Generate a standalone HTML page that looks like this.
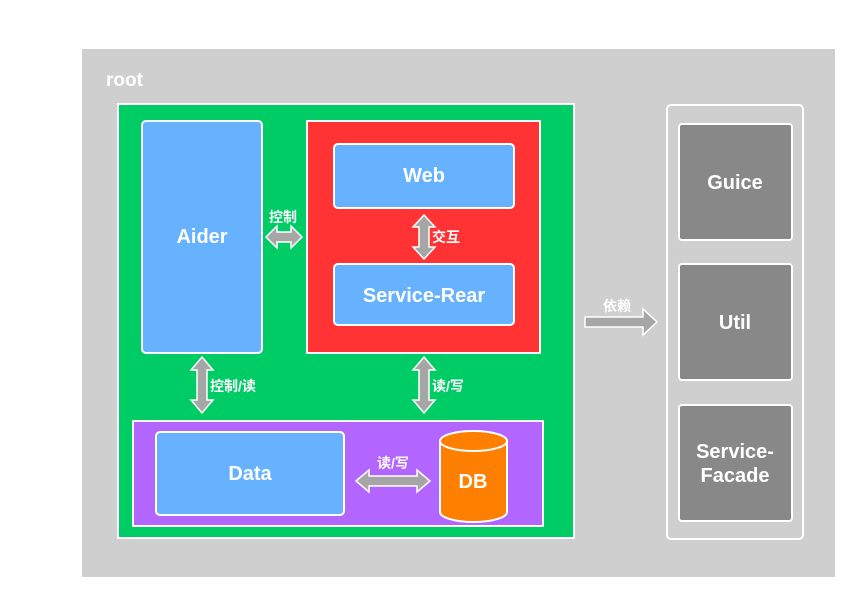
<!DOCTYPE html>
<html><head><meta charset="utf-8"><style>
html,body{margin:0;padding:0;background:#fff;}
svg{display:block;}
text{font-family:"Liberation Sans","Noto Sans CJK SC",sans-serif;font-weight:bold;fill:#fff;}
</style></head><body>
<svg width="868" height="610" viewBox="0 0 868 610" xmlns="http://www.w3.org/2000/svg">
<rect x="82" y="49" width="753" height="528" fill="#cfcfcf"/>
<text x="106" y="86" font-size="19" fill="#f4f4f4">root</text>
<rect x="118" y="104" width="456" height="434" fill="#00cc66" stroke="#fff" stroke-width="2"/>
<rect x="142" y="121" width="120" height="232" rx="4" fill="#66b2ff" stroke="#fff" stroke-width="2"/>
<text x="202" y="243" font-size="20" text-anchor="middle">Aider</text>
<rect x="307" y="121" width="233" height="232" fill="#ff3333" stroke="#fff" stroke-width="2"/>
<rect x="334" y="144" width="180" height="64" rx="4" fill="#66b2ff" stroke="#fff" stroke-width="2"/>
<text x="424" y="182" font-size="20" text-anchor="middle">Web</text>
<rect x="334" y="264" width="180" height="61" rx="4" fill="#66b2ff" stroke="#fff" stroke-width="2"/>
<text x="424" y="302" font-size="20" text-anchor="middle">Service-Rear</text>
<rect x="133" y="421" width="410" height="105" fill="#b266ff" stroke="#fff" stroke-width="2"/>
<rect x="156" y="432" width="188" height="83" rx="4" fill="#66b2ff" stroke="#fff" stroke-width="2"/>
<text x="250" y="480" font-size="20" text-anchor="middle">Data</text>
<path d="M440 441 L440 512 A33.5 10 0 0 0 507 512 L507 441 Z" fill="#ff8000" stroke="#fff" stroke-width="2"/>
<ellipse cx="473.5" cy="441" rx="33.5" ry="10" fill="#ff8000" stroke="#fff" stroke-width="2"/>
<text x="473" y="488" font-size="20" text-anchor="middle">DB</text>
<rect x="667" y="105" width="136" height="434" rx="4" fill="none" stroke="#fff" stroke-width="2"/>
<rect x="679" y="124" width="113" height="116" rx="3" fill="#888" stroke="#fff" stroke-width="2"/>
<text x="735" y="189" font-size="20" text-anchor="middle">Guice</text>
<rect x="679" y="264" width="113" height="116" rx="3" fill="#888" stroke="#fff" stroke-width="2"/>
<text x="735" y="329" font-size="20" text-anchor="middle">Util</text>
<rect x="679" y="405" width="113" height="116" rx="3" fill="#888" stroke="#fff" stroke-width="2"/>
<text x="735" y="458" font-size="20" text-anchor="middle">Service-</text>
<text x="735" y="482" font-size="20" text-anchor="middle">Facade</text>
<g fill="#a6a6a6" stroke="#fff" stroke-width="1.5">
<polygon points="266,237 277,226 277,232 291,232 291,226 302,237 291,248 291,242 277,242 277,248"/>
<polygon points="424,215 435,227 429,227 429,247 435,247 424,259 413,247 419,247 419,227 413,227"/>
<polygon points="202,357 213,370 207,370 207,400 213,400 202,413 191,400 197,400 197,370 191,370"/>
<polygon points="424,357 435,370 429,370 429,400 435,400 424,413 413,400 419,400 419,370 413,370"/>
<polygon points="356,481 369,470 369,476 417,476 417,470 430,481 417,492 417,486 369,486 369,492"/>
<polygon points="585,317 643,317 643,309 657,322 643,335 643,327 585,327"/>
</g>
<text x="283" y="222" font-size="14" text-anchor="middle">控制</text>
<text x="432" y="242" font-size="14">交互</text>
<text x="210" y="391" font-size="14">控制/读</text>
<text x="432" y="391" font-size="14">读/写</text>
<text x="393" y="468" font-size="14" text-anchor="middle">读/写</text>
<text x="617" y="311" font-size="14" text-anchor="middle" fill="#f0f0f0">依赖</text>
</svg>
</body></html>
